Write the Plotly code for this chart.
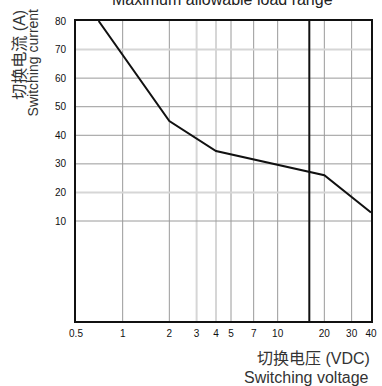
import plotly.graph_objects as go

# Data
voltage = [0.7, 2, 4, 20, 40]          # Switching voltage (VDC)
current = [80, 45, 34.5, 26, 13]       # Switching current (A)
limit_voltage = 16                     # vertical boundary line (VDC)

x_tickvals = [0.5, 1, 2, 3, 4, 5, 7, 10, 20, 30, 40]
x_ticktext = ["0.5", "1", "2", "3", "4", "5", "7", "10", "20", "30", "40"]
y_tickvals = [10, 20, 30, 40, 50, 60, 70, 80]
y_ticktext = ["10", "20", "30", "40", "50", "60", "70", "80"]

x_grid_dark = [1, 2, 5, 7, 10, 20, 30]
x_grid_light = [3, 4]
y_grid_dark = [10, 30, 40, 50, 60]
y_grid_light = [20, 70]

Y_MIN, Y_MAX = -25, 80
FONT = "Liberation Sans, Arial, Noto Sans CJK SC, sans-serif"

fig = go.Figure()
fig.add_trace(go.Scatter(x=voltage, y=current, mode="lines",
                         line=dict(color="#111", width=2), hoverinfo="skip",
                         showlegend=False))

shapes = []
for v in x_grid_light:
    shapes.append(dict(type="line", xref="x", yref="paper", x0=v, x1=v, y0=0, y1=1,
                       line=dict(color="#d6d6d6", width=2), layer="below"))
for v in x_grid_dark:
    shapes.append(dict(type="line", xref="x", yref="paper", x0=v, x1=v, y0=0, y1=1,
                       line=dict(color="#9a9a9a", width=1), layer="below"))
for v in y_grid_light:
    shapes.append(dict(type="line", xref="paper", yref="y", x0=0, x1=1, y0=v, y1=v,
                       line=dict(color="#d6d6d6", width=2), layer="below"))
for v in y_grid_dark:
    shapes.append(dict(type="line", xref="paper", yref="y", x0=0, x1=1, y0=v, y1=v,
                       line=dict(color="#9a9a9a", width=1), layer="below"))
shapes.append(dict(type="line", xref="x", yref="paper", x0=limit_voltage, x1=limit_voltage,
                   y0=0, y1=1, line=dict(color="#111", width=2)))

fig.update_layout(
    width=382, height=386,
    margin=dict(l=76, r=5, t=21, b=65),
    paper_bgcolor="white", plot_bgcolor="white",
    font=dict(family=FONT, color="#222"),
    shapes=shapes,
    hovermode=False,
    xaxis=dict(type="log", range=[-0.30103, 1.60206],
               tickvals=x_tickvals, ticktext=x_ticktext,
               showgrid=False, zeroline=False,
               showline=True, mirror=True, linecolor="#111", linewidth=2,
               ticks="outside", ticklen=2, tickcolor="rgba(0,0,0,0)",
               tickfont=dict(size=10, color="#111")),
    yaxis=dict(type="linear", range=[Y_MIN, Y_MAX],
               tickvals=y_tickvals, ticktext=y_ticktext,
               showgrid=False, zeroline=False,
               showline=True, mirror=True, linecolor="#111", linewidth=2,
               ticks="outside", ticklen=6, tickcolor="rgba(0,0,0,0)",
               tickfont=dict(size=10, color="#111")),
    annotations=[
        dict(text="Maximum allowable load range", xref="paper", yref="paper",
             x=0.495, y=1, xanchor="center", yanchor="bottom", yshift=11,
             showarrow=False, font=dict(size=16, color="#222")),
        dict(text="切换电流 (A)", xref="paper", yref="paper", textangle=-90,
             x=(18.5 - 76) / 301, y=1 + (21 - 8) / 300, xanchor="center", yanchor="top",
             showarrow=False, font=dict(size=16, color="#333")),
        dict(text="Switching current", xref="paper", yref="paper", textangle=-90,
             x=(32 - 76) / 301, y=1 + (21 - 7) / 300, xanchor="center", yanchor="top",
             showarrow=False, font=dict(size=14, color="#333")),
        dict(text="切换电压 (VDC)", xref="paper", yref="paper",
             x=(378 - 76) / 301, y=-(358 - 321) / 300, xanchor="right", yanchor="middle",
             showarrow=False, font=dict(size=16, color="#333")),
        dict(text="Switching voltage", xref="paper", yref="paper",
             x=(377 - 76) / 301, y=-(377 - 321) / 300, xanchor="right", yanchor="middle",
             showarrow=False, font=dict(size=16, color="#333")),
    ],
)

fig.write_html("out.html", config={"displayModeBar": False, "staticPlot": True},
               post_script="document.body.style.margin='0';document.body.style.overflow='hidden';")
